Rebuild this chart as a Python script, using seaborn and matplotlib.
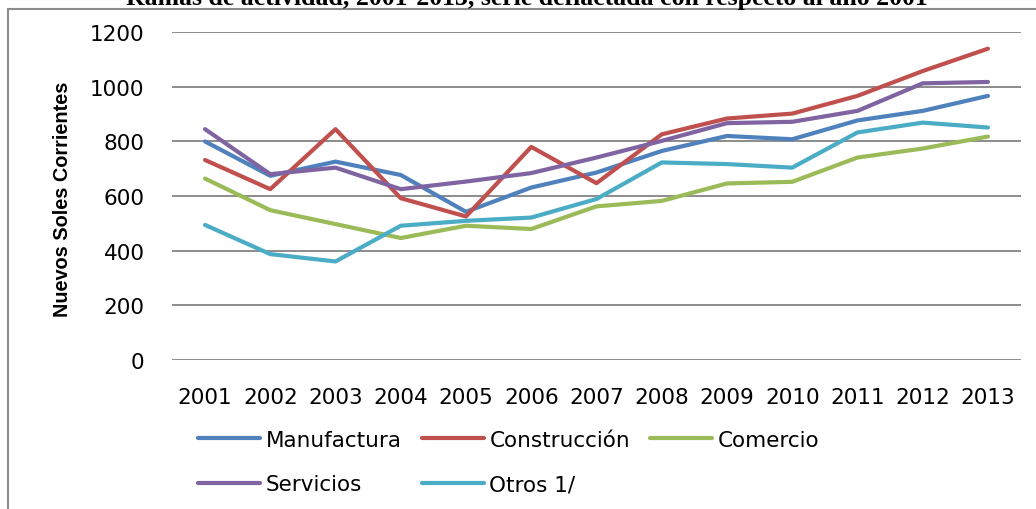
import pandas as pd
import matplotlib.pyplot as plt
import seaborn as sns
from matplotlib.patches import Rectangle

# Data
years = [2001, 2002, 2003, 2004, 2005, 2006, 2007, 2008, 2009, 2010, 2011, 2012, 2013]
manufactura = [800, 674, 726, 677, 542, 631, 686, 765, 820, 808, 877, 912, 967]
construccion = [732, 625, 845, 592, 525, 780, 647, 826, 884, 902, 967, 1058, 1140]
comercio = [664, 548, 497, 446, 491, 479, 562, 582, 646, 652, 741, 774, 818]
servicios = [845, 680, 704, 625, 653, 684, 741, 802, 867, 872, 912, 1013, 1018]
otros = [494, 387, 360, 491, 509, 521, 589, 723, 717, 704, 833, 869, 851]

series_names = ["Manufactura", "Construcción", "Comercio", "Servicios", "Otros 1/"]
series_values = [manufactura, construccion, comercio, servicios, otros]
colors = ["#4F81BD", "#C0504D", "#9BBB59", "#8064A2", "#4BACC6"]

title = "Ramas de actividad, 2001-2013, serie deflactada con respecto al año 2001"
ylabel = "Nuevos Soles Corrientes"
yticks = [0, 200, 400, 600, 800, 1000, 1200]

# long-form table for seaborn
df = pd.concat([pd.DataFrame({"Año": years, "Valor": v, "Rama": n})
                for n, v in zip(series_names, series_values)], ignore_index=True)

sns.set_style("white")
plt.rcParams['font.family'] = ['DejaVu Sans']
plt.rcParams['text.color'] = 'black'

W, H = 1036, 510
fig = plt.figure(figsize=(W / 100, H / 100), dpi=100)
ax = fig.add_axes([172.4 / W, 1 - 360.7 / H, (1020.6 - 172.4) / W, (360.7 - 33.3) / H])

sns.lineplot(data=df, x="Año", y="Valor", hue="Rama", hue_order=series_names,
             palette=colors, linewidth=3.0, ax=ax, legend=True,
             solid_capstyle="round", solid_joinstyle="round")

ax.set_xlim(years[0] - 0.5, years[-1] + 0.5)
ax.set_ylim(0, 1200)
ax.set_xticks(years)
ax.set_xticklabels([str(y) for y in years])
ax.set_yticks(yticks)
ax.yaxis.grid(True, color="#8c8c8c", linewidth=1.4)
ax.set_axisbelow(True)
for s in ax.spines.values():
    s.set_visible(False)
ax.tick_params(axis="both", length=0, labelsize=15.5, colors="black")
ax.tick_params(axis="x", pad=20)
ax.tick_params(axis="y", pad=20)
ax.set_xlabel("")
ax.set_ylabel("")

fig.text(62 / W, 1 - 199 / H, ylabel, rotation=90, ha="center", va="center",
         fontsize=14.3, fontweight="bold", color="black",
         family=["Liberation Sans", "DejaVu Sans"])

# legend filled row by row, like the source
handles, labels = ax.get_legend_handles_labels()
ax.get_legend().remove()
lookup = dict(zip(labels, handles))
order = ["Manufactura", "Servicios", "Construcción", "Otros 1/", "Comercio"]
for h in handles:
    h.set_linewidth(3.0)
    h.set_solid_capstyle("round")
fig.legend([lookup[n] for n in order], order, ncol=3, loc="center left",
           bbox_to_anchor=(198 / W, 1 - 463 / H), frameon=False,
           fontsize=15.5, handlelength=2.9, handletextpad=0.25,
           columnspacing=0.92, labelspacing=1.15, borderpad=0, borderaxespad=0)

# title, cut off at the top like the source image
fig.text(527 / W, 1 - 5 / H, title, ha="center", va="baseline",
         fontsize=18.5, fontweight="bold", family=["Liberation Serif", "DejaVu Serif"])

# chart border
fig.patches.append(Rectangle((8 / W, -0.05), (W + 10) / W, 1.05 - 9.5 / H,
                             transform=fig.transFigure, fill=False,
                             edgecolor="#8c8c8c", linewidth=1.5))

fig.savefig("out.png", dpi=100)
